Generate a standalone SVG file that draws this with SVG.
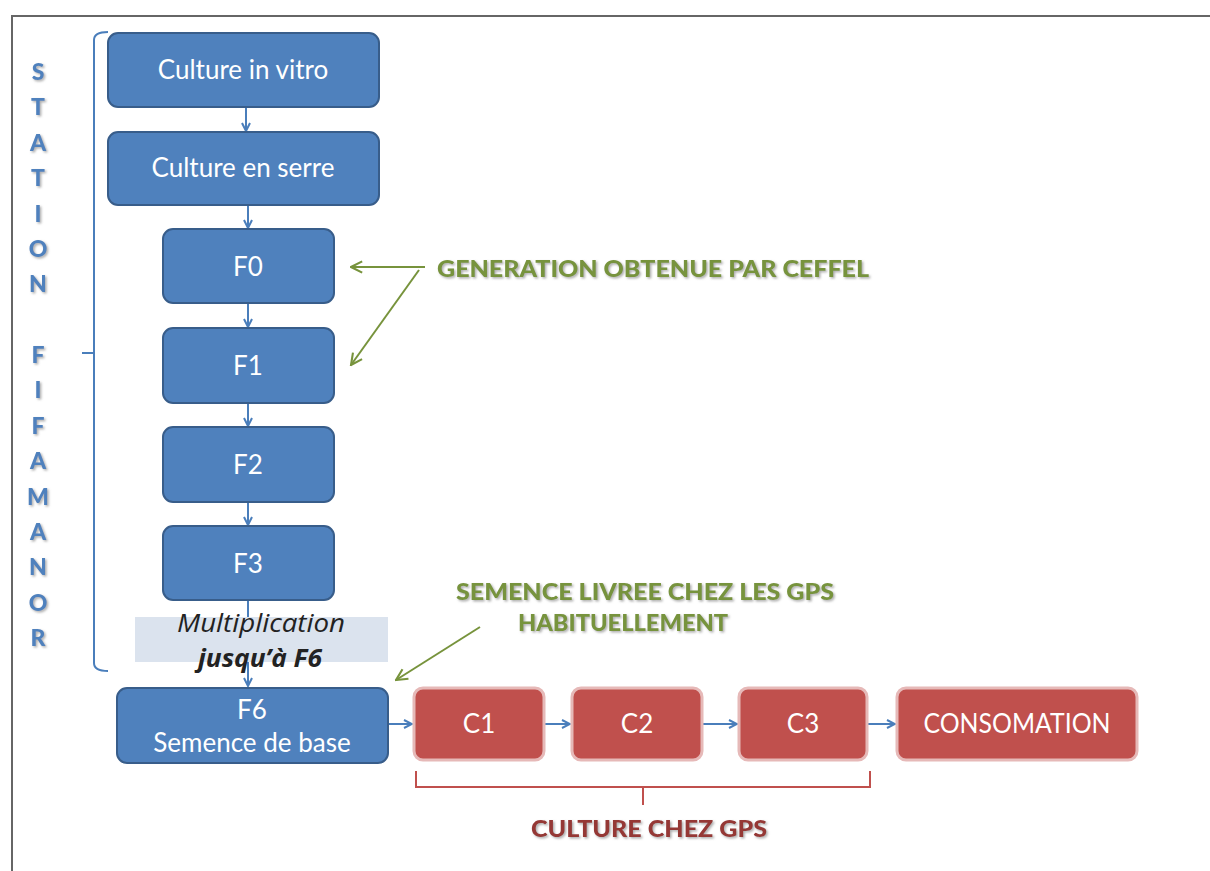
<svg xmlns="http://www.w3.org/2000/svg" width="1210" height="871" viewBox="0 0 1210 871">
<defs>
<style>
.blue{fill:#4f81bd;stroke:#385d8a;stroke-width:2}
.red{fill:#c0504d;stroke:#e6b9b8;stroke-width:3}
.wt{fill:#ffffff;font-family:Lato,"Open Sans",sans-serif;font-size:26px;text-anchor:middle}
.conn{stroke:#4a7ebb;stroke-width:2;fill:none}
.green{stroke:#77933c;stroke-width:2;fill:none}
.gt{fill:#77933c;font-family:Lato,"Liberation Sans",sans-serif;font-weight:900;font-size:23px;text-anchor:middle}
.lt{fill:#4f81bd;font-family:Lato,"Liberation Sans",sans-serif;font-weight:900;font-size:23px;text-anchor:middle}
.rt{fill:#953735;font-family:Lato,"Liberation Sans",sans-serif;font-weight:900;font-size:23px;text-anchor:middle}
.it{fill:#222;font-family:"Open Sans",Lato,sans-serif;font-style:italic;font-size:25px;text-anchor:middle}
</style>
<filter id="sh" x="-10%" y="-30%" width="120%" height="160%">
<feDropShadow dx="1.5" dy="1.5" stdDeviation="1" flood-color="#888" flood-opacity="0.7"/>
</filter>
<marker id="ab" viewBox="0 0 10 10" refX="9" refY="5" markerWidth="10" markerHeight="10" orient="auto" markerUnits="userSpaceOnUse">
<path d="M1,1 L9,5 L1,9" fill="none" stroke="#4a7ebb" stroke-width="2"/>
</marker>
<marker id="ag" viewBox="0 0 10 10" refX="9" refY="5" markerWidth="14" markerHeight="14" orient="auto" markerUnits="userSpaceOnUse">
<path d="M1,1 L9,5 L1,9" fill="none" stroke="#77933c" stroke-width="1.5"/>
</marker>
</defs>
<rect x="0" y="0" width="1210" height="871" fill="#ffffff"/>
<path d="M12,871 L12,16 L1210,16" fill="none" stroke="#666" stroke-width="2"/>

<g id="side-label" filter="url(#sh)">
<text class="lt" x="38" y="80">S</text>
<text class="lt" x="38" y="115">T</text>
<text class="lt" x="38" y="151">A</text>
<text class="lt" x="38" y="186">T</text>
<text class="lt" x="38" y="222">I</text>
<text class="lt" x="38" y="257">O</text>
<text class="lt" x="38" y="292">N</text>
<text class="lt" x="38" y="363">F</text>
<text class="lt" x="38" y="398">I</text>
<text class="lt" x="38" y="434">F</text>
<text class="lt" x="38" y="469">A</text>
<text class="lt" x="38" y="505">M</text>
<text class="lt" x="38" y="540">A</text>
<text class="lt" x="38" y="575">N</text>
<text class="lt" x="38" y="611">O</text>
<text class="lt" x="38" y="646">R</text>
</g>

<g id="bracket-station">
<path d="M108,32 Q94,32 94,40 L94,663 Q94,671 108,671" fill="none" stroke="#4a7ebb" stroke-width="2"/>
<path d="M94,353 L82,353" fill="none" stroke="#4a7ebb" stroke-width="2"/>
</g>

<g id="connectors">
<line class="conn" x1="246" y1="108" x2="246" y2="131" marker-end="url(#ab)"/>
<line class="conn" x1="248" y1="206" x2="248" y2="228" marker-end="url(#ab)"/>
<line class="conn" x1="248" y1="304" x2="248" y2="327" marker-end="url(#ab)"/>
<line class="conn" x1="248" y1="404" x2="248" y2="426" marker-end="url(#ab)"/>
<line class="conn" x1="248" y1="502" x2="248" y2="525" marker-end="url(#ab)"/>
<line class="conn" x1="248" y1="601" x2="248" y2="686" marker-end="url(#ab)"/>
<line class="conn" x1="389" y1="724" x2="412" y2="724" marker-end="url(#ab)"/>
<line class="conn" x1="545" y1="724" x2="570" y2="724" marker-end="url(#ab)"/>
<line class="conn" x1="703" y1="724" x2="737" y2="724" marker-end="url(#ab)"/>
<line class="conn" x1="868" y1="724" x2="895" y2="724" marker-end="url(#ab)"/>
<line class="green" x1="425" y1="267" x2="351" y2="267" marker-end="url(#ag)"/>
<line class="green" x1="419" y1="270" x2="351" y2="365" marker-end="url(#ag)"/>
<line class="green" x1="480" y1="627" x2="396" y2="680" marker-end="url(#ag)"/>
</g>

<g id="n-vitro">
<rect class="blue" x="108" y="33" width="271" height="74" rx="10"/>
<text class="wt" x="243" y="79">Culture in vitro</text>
</g>
<g id="n-serre">
<rect class="blue" x="108" y="132" width="271" height="73" rx="10"/>
<text class="wt" x="243" y="177">Culture en serre</text>
</g>
<g id="n-f0">
<rect class="blue" x="163" y="229" width="171" height="74" rx="10"/>
<text class="wt" x="248" y="276">F0</text>
</g>
<g id="n-f1">
<rect class="blue" x="163" y="328" width="171" height="75" rx="10"/>
<text class="wt" x="248" y="375">F1</text>
</g>
<g id="n-f2">
<rect class="blue" x="163" y="427" width="171" height="75" rx="10"/>
<text class="wt" x="248" y="474">F2</text>
</g>
<g id="n-f3">
<rect class="blue" x="163" y="526" width="171" height="74" rx="10"/>
<text class="wt" x="248" y="573">F3</text>
</g>

<g id="n-multiplication">
<rect x="135" y="617" width="253" height="45" fill="#dbe3ee"/>
<text class="it" x="261" y="632" textLength="168" lengthAdjust="spacingAndGlyphs">Multiplication</text>
<text class="it" x="260" y="667" font-weight="bold" textLength="124" lengthAdjust="spacingAndGlyphs">jusqu’à F6</text>
</g>

<g id="n-f6">
<rect class="blue" x="117" y="688" width="271" height="75" rx="10"/>
<text class="wt" x="252" y="719">F6</text>
<text class="wt" x="252" y="752">Semence de base</text>
</g>

<g id="n-c1">
<rect class="red" x="414" y="688" width="130" height="72" rx="9"/>
<text class="wt" x="479" y="733">C1</text>
</g>
<g id="n-c2">
<rect class="red" x="572" y="688" width="130" height="72" rx="9"/>
<text class="wt" x="637" y="733">C2</text>
</g>
<g id="n-c3">
<rect class="red" x="739" y="688" width="128" height="72" rx="9"/>
<text class="wt" x="803" y="733">C3</text>
</g>
<g id="n-consomation">
<rect class="red" x="897" y="688" width="240" height="72" rx="9"/>
<text class="wt" x="1017" y="733" textLength="187" lengthAdjust="spacingAndGlyphs">CONSOMATION</text>
</g>

<g id="bracket-gps">
<path d="M416,771 L416,787 L870,787 L870,771 M643,787 L643,805" fill="none" stroke="#c0504d" stroke-width="2"/>
</g>

<g id="labels" filter="url(#sh)">
<text class="gt" x="653" y="277" textLength="432" lengthAdjust="spacingAndGlyphs">GENERATION OBTENUE PAR CEFFEL</text>
<text class="gt" x="645" y="600" textLength="378" lengthAdjust="spacingAndGlyphs">SEMENCE LIVREE CHEZ LES GPS</text>
<text class="gt" x="623" y="631" textLength="210" lengthAdjust="spacingAndGlyphs">HABITUELLEMENT</text>
<text class="rt" x="649" y="837" textLength="236" lengthAdjust="spacingAndGlyphs">CULTURE CHEZ GPS</text>
</g>
</svg>
